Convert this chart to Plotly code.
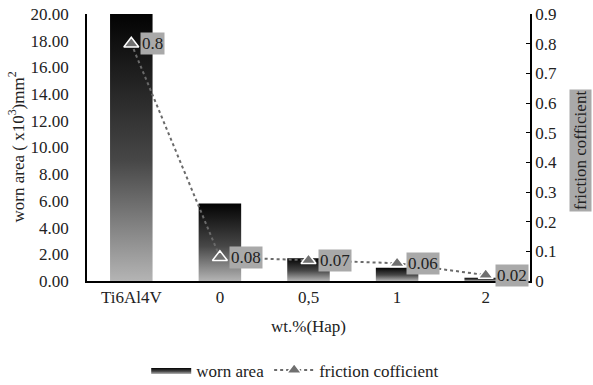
import plotly.graph_objects as go

categories = ["Ti6Al4V", "0", "0,5", "1", "2"]
worn_area = [20.0, 5.8, 1.7, 1.0, 0.25]
friction = [0.8, 0.08, 0.07, 0.06, 0.02]
friction_labels = ["0.8", "0.08", "0.07", "0.06", "0.02"]

FONT = "Liberation Serif, Times New Roman, DejaVu Serif, serif"
FS = 17
half_w = 0.24
grad = [[0.0, "#b4b4b4"], [0.45, "#474747"], [1.0, "#030303"]]

fig = go.Figure()
pos = list(range(len(categories)))
for i, (p, v) in enumerate(zip(pos, worn_area)):
    fig.add_trace(go.Scatter(
        x=[p - half_w, p + half_w, p + half_w, p - half_w, p - half_w],
        y=[0, 0, v, v, 0],
        fill="toself", mode="lines", line=dict(width=0, color="#333"),
        fillgradient=dict(type="vertical", colorscale=grad),
        name="worn area", legendgroup="worn", showlegend=(i == 0),
        hoverinfo="skip", yaxis="y",
    ))

fig.add_trace(go.Scatter(
    x=pos, y=friction, yaxis="y2", mode="lines+markers",
    name="friction cofficient",
    line=dict(color="#6a6a6a", width=2, dash="dot"),
    marker=dict(symbol="triangle-up", size=13, color="#707070",
                line=dict(color="white", width=1.5)),
))

for p, f, t in zip(pos, friction, friction_labels):
    fig.add_annotation(x=p, y=f, xref="x", yref="y2", text=t, showarrow=False,
                       xanchor="left", yanchor="middle", xshift=9,
                       bgcolor="#a9a9a9", borderpad=1,
                       font=dict(family=FONT, size=FS, color="#222"))

fig.add_annotation(x=1.0, y=0.5, xref="paper", yref="paper", text="friction cofficient",
                   textangle=-90, showarrow=False, xanchor="left", yanchor="middle",
                   xshift=39, yshift=-3, bgcolor="#a9a9a9", borderpad=1,
                   font=dict(family=FONT, size=FS, color="#222"))

fig.add_annotation(x=0.0, y=0.5, xref="paper", yref="paper",
                   text="worn area ( x10<sup>3</sup>)mm<sup>2</sup>",
                   textangle=-90, showarrow=False, xanchor="center", yanchor="middle",
                   xshift=-71, font=dict(family=FONT, size=FS, color="#222"))

fig.update_layout(
    width=593, height=385,
    margin=dict(l=87, r=63, t=14, b=104, autoexpand=False),
    paper_bgcolor="white", plot_bgcolor="white",
    font=dict(family=FONT, size=FS, color="#222"),
    showlegend=True,
    legend=dict(orientation="h", x=0.47, xanchor="center", y=-0.335, yanchor="middle",
                font=dict(family=FONT, size=FS, color="#222"),
                itemwidth=40, tracegroupgap=0),
    xaxis=dict(range=[-0.5, 4.5], tickvals=pos, ticktext=categories, automargin=False,
               showgrid=False, zeroline=False, showline=True, linecolor="black",
               linewidth=1.5, ticks="", tickfont=dict(family=FONT, size=FS),
               title=dict(text="wt.%(Hap)", standoff=14, font=dict(family=FONT, size=FS))),
    yaxis=dict(range=[0, 20], dtick=2, tickformat=".2f", showgrid=False, zeroline=False,
               automargin=False,
               showline=True, linecolor="black", linewidth=1.5, ticks="outside",
               ticklen=13, tickcolor="rgba(0,0,0,0)", tickfont=dict(family=FONT, size=FS)),
    yaxis3=dict(range=[0, 20], dtick=2, overlaying="y", side="left", anchor="x",
                automargin=False, showticklabels=False,
                showgrid=False, zeroline=False, showline=True, linecolor="black",
                linewidth=1.5, ticks="inside", ticklen=4, tickcolor="black"),
    yaxis2=dict(range=[0, 0.9], dtick=0.1, overlaying="y", side="right",
                automargin=False,
                showgrid=False, zeroline=False, showline=True, linecolor="black",
                linewidth=1.5, ticks="inside", ticklen=4, tickcolor="black",
                tickfont=dict(family=FONT, size=FS)),
)

fig.write_html("out.html")
